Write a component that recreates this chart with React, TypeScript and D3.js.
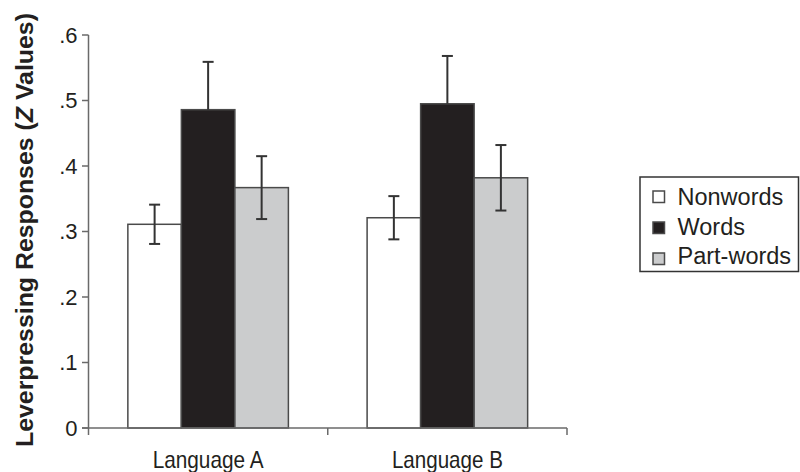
import React from "react";
import * as d3 from "d3";

const categories = ["Language A", "Language B"];
const series = ["Nonwords", "Words", "Part-words"];
const nonwords = [0.311, 0.321];
const words = [0.486, 0.495];
const partWords = [0.367, 0.382];
const nonwordsErr = [0.03, 0.033];
const wordsErr = [0.073, 0.073];
const partWordsErr = [0.048, 0.05];
const yTicks = [0, 0.1, 0.2, 0.3, 0.4, 0.5, 0.6];
const yTickLabels = ["0", ".1", ".2", ".3", ".4", ".5", ".6"];
const fills = ["#ffffff", "#231f20", "#cbcccd"];

const values = [nonwords, words, partWords];
const errs = [nonwordsErr, wordsErr, partWordsErr];

const FONT = "'Liberation Sans', Arial, Helvetica, sans-serif";

export default function App() {
  const x0 = 88.5;
  const x1 = 567;
  const yBase = 428;
  const yTop = 35;
  const y = d3.scaleLinear().domain([0, 0.6]).range([yBase, yTop]);
  const xBand = d3
    .scaleBand<string>()
    .domain(categories)
    .range([x0, x1])
    .paddingInner(0.329)
    .paddingOuter(0.1645);
  const xInner = d3
    .scaleBand<string>()
    .domain(series)
    .range([0, xBand.bandwidth()])
    .padding(0);
  const axisColor = "#6a6a6a";
  const step = xBand.step();
  const catTicks = [0, 1, 2].map((i) => x0 + i * step);

  return (
    <svg
      width={800}
      height={472}
      style={{ position: "absolute", left: 0, top: 0, background: "#fff" }}
      fontFamily={FONT}
    >
      {/* y title */}
      <text
        transform={`translate(32.5,230) rotate(-90)`}
        textAnchor="middle"
        fontSize={24.5}
        fontWeight="bold"
        fill="#231f20"
        textLength={434}
        lengthAdjust="spacingAndGlyphs"
      >
        Leverpressing Responses (<tspan fontStyle="italic">Z</tspan> Values)
      </text>

      {/* bars */}
      {categories.map((c, ci) =>
        series.map((s, si) => {
          const bx = (xBand(c) as number) + (xInner(s) as number);
          const v = values[si][ci];
          return (
            <rect
              key={c + s}
              x={bx}
              y={y(v)}
              width={xInner.bandwidth()}
              height={yBase - y(v)}
              fill={fills[si]}
              stroke="#4a4a4a"
              strokeWidth={1.5}
            />
          );
        })
      )}

      {/* error bars */}
      {categories.map((c, ci) =>
        series.map((s, si) => {
          const cx = (xBand(c) as number) + (xInner(s) as number) + xInner.bandwidth() / 2;
          const v = values[si][ci];
          const e = errs[si][ci];
          const hi = y(v + e);
          const lo = y(v - e);
          const dark = si === 1;
          return (
            <g key={"e" + c + s} stroke="#333" strokeWidth={2}>
              <line x1={cx} x2={cx} y1={hi} y2={dark ? y(v) : lo} />
              <line x1={cx - 5.5} x2={cx + 5.5} y1={hi} y2={hi} />
              {!dark && <line x1={cx - 5.5} x2={cx + 5.5} y1={lo} y2={lo} />}
            </g>
          );
        })
      )}

      {/* y axis */}
      <line x1={x0} x2={x0} y1={yTop} y2={yBase} stroke={axisColor} strokeWidth={1.5} />
      {yTicks.map((t, i) => (
        <g key={"yt" + i}>
          <line x1={x0 - 6.5} x2={x0} y1={y(t)} y2={y(t)} stroke={axisColor} strokeWidth={1.5} />
          <text
            x={77.5}
            y={y(t)}
            dy="0.36em"
            textAnchor="end"
            fontSize={22}
            fill="#231f20"
          >
            {yTickLabels[i]}
          </text>
        </g>
      ))}

      {/* x axis */}
      <line x1={x0 - 6.5} x2={x1} y1={yBase} y2={yBase} stroke={axisColor} strokeWidth={1.5} />
      {catTicks.map((t, i) => (
        <line key={"xt" + i} x1={t} x2={t} y1={yBase} y2={yBase + 7} stroke={axisColor} strokeWidth={1.5} />
      ))}
      {categories.map((c) => (
        <text
          key={"xl" + c}
          x={(xBand(c) as number) + xBand.bandwidth() / 2}
          y={468}
          textAnchor="middle"
          fontSize={24}
          fill="#231f20"
          textLength={111}
          lengthAdjust="spacingAndGlyphs"
        >
          {c}
        </text>
      ))}

      {/* legend */}
      <rect x={640} y={177} width={158.5} height={94.5} fill="#fff" stroke="#333" strokeWidth={1.5} />
      {series.map((s, i) => (
        <g key={"lg" + s}>
          <rect
            x={653}
            y={191 + i * 31}
            width={11.5}
            height={11.5}
            fill={fills[i]}
            stroke="#4a4a4a"
            strokeWidth={1.5}
          />
          <text x={677.5} y={205 + i * 29.5} fontSize={23.5} fill="#231f20">
            {s}
          </text>
        </g>
      ))}
    </svg>
  );
}
